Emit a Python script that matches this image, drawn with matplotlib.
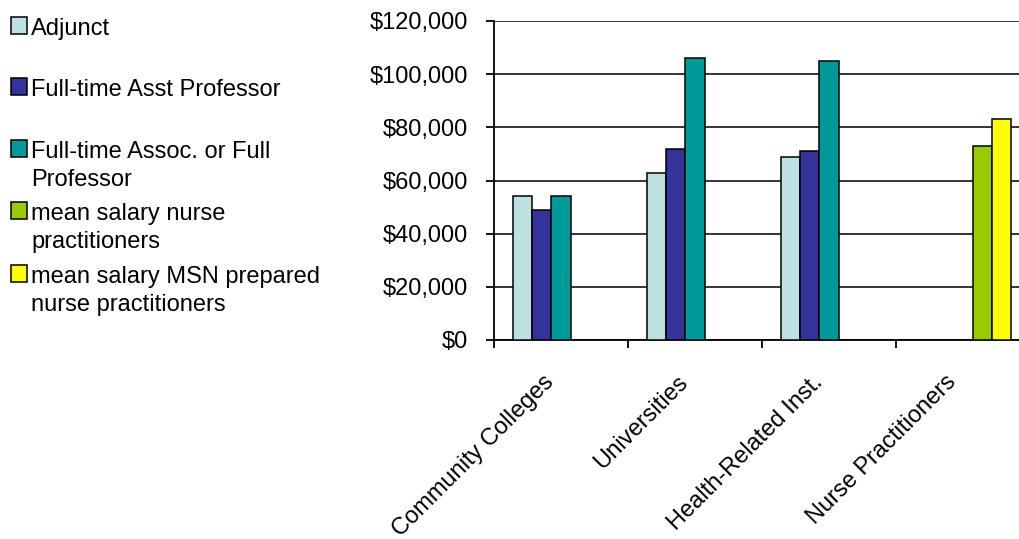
import matplotlib
matplotlib.use("Agg")
import matplotlib.pyplot as plt
import matplotlib.transforms as mtransforms
import numpy as np
from matplotlib.patches import Rectangle
from matplotlib.ticker import FuncFormatter

plt.rcParams['font.family'] = ['Liberation Sans', 'DejaVu Sans']

categories = ["Community Colleges", "Universities", "Health-Related Inst.", "Nurse Practitioners"]
series_names = ["Adjunct", "Full-time Asst Professor", "Full-time Assoc. or Full\nProfessor",
                "mean salary nurse\npractitioners", "mean salary MSN prepared\nnurse practitioners"]
adjunct = [54000, 63000, 69000, np.nan]
asst_prof = [49000, 71700, 71000, np.nan]
assoc_prof = [54000, 106000, 105000, np.nan]
np_mean = [np.nan, np.nan, np.nan, 73000]
np_msn = [np.nan, np.nan, np.nan, 83000]
colors = ["#BDE0E3", "#333399", "#009999", "#99CC00", "#FFFF00"]

fig = plt.figure(figsize=(10.19, 5.39), dpi=100)
W, H = 1019, 539
# plot area runs past the right edge of the picture, as in the original
ax = fig.add_axes([494 / W, 1 - 340 / H, (1030 - 494) / W, 319 / H])

x = np.arange(len(categories))
w = 0.142
all_series = [adjunct, asst_prof, assoc_prof, np_mean, np_msn]
for i, vals in enumerate(all_series):
    ax.bar(x + (i - 2) * w, vals, w, color=colors[i], edgecolor="black", linewidth=1.1, zorder=3)

ax.set_xlim(-0.5, 3.5)
ax.set_ylim(0, 120000)
ax.set_yticks(np.arange(0, 120001, 20000))
ax.yaxis.set_major_formatter(FuncFormatter(lambda v, p: "${:,.0f}".format(v)))
ax.grid(axis="y", color="black", linewidth=1.1, zorder=1)
ax.set_axisbelow(True)

for s in ["top", "right"]:
    ax.spines[s].set_visible(False)
ax.spines["left"].set_linewidth(1.3)
ax.spines["bottom"].set_linewidth(1.3)

ax.set_xticks(x)
ax.set_xticklabels(categories, rotation=45, ha="right", va="center", rotation_mode="anchor")
ax.set_xticks(np.arange(-0.5, 4, 1), minor=True)
ax.tick_params(axis="x", which="major", length=0, pad=28, labelsize=17)
ax.tick_params(axis="x", which="minor", length=6, width=1.3, direction="out")
ax.tick_params(axis="y", length=6, width=1.3, direction="out", pad=13, labelsize=17)
shift = mtransforms.ScaledTranslation(-10 / 100, 0, fig.dpi_scale_trans)
for lab in ax.get_xticklabels():
    lab.set_transform(lab.get_transform() + shift)

# legend drawn by hand to keep the uneven spacing of the original
line_y = [25, 86, 148, 210, 273]
for i, name in enumerate(series_names):
    y = line_y[i]
    fig.patches.append(Rectangle((11 / W, 1 - (y + 9) / H), 16 / W, 17 / H, transform=fig.transFigure,
                                 facecolor=colors[i], edgecolor="black", linewidth=1.1))
    fig.text(31 / W, 1 - (y - 7) / H, name, fontsize=17, va="top", ha="left", linespacing=1.35)

fig.savefig("out.png", dpi=100)
